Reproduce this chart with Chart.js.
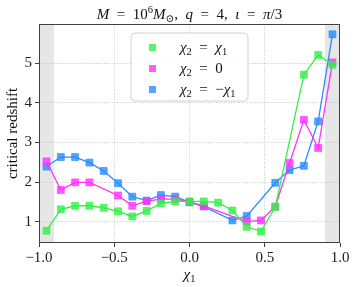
<!DOCTYPE html>
<html><head><meta charset="utf-8">
<script src="https://cdn.jsdelivr.net/npm/chart.js@4"></script>
<style>html,body{margin:0;padding:0;background:#fff}#wrap{width:357px;height:287px}</style>
</head><body><div id="wrap"><canvas id="c" width="357" height="287"></canvas></div>
<script>
const chi1 = [-0.95, -0.855, -0.76, -0.665, -0.57, -0.475, -0.38, -0.285, -0.19, -0.095, 0, 0.095, 0.19, 0.285, 0.38, 0.475, 0.57, 0.665, 0.76, 0.855, 0.95];
const zAligned = [0.77, 1.31, 1.40, 1.40, 1.35, 1.26, 1.13, 1.27, 1.46, 1.51, 1.51, 1.51, 1.48, 1.28, 0.87, 0.75, 1.37, null, 4.71, 5.21, 4.96];
const zZero    = [2.52, 1.80, 1.99, 1.99, null, 1.66, 1.40, 1.52, 1.57, 1.57, 1.50, 1.40, null, null, 1.00, 1.03, 1.38, 2.48, 3.57, 2.86, 5.02];
const zAnti    = [2.39, 2.63, 2.63, 2.49, 2.28, 1.97, 1.63, 1.53, 1.67, 1.63, 1.49, 1.38, null, 1.03, 1.14, null, 1.98, 2.30, 2.41, 3.53, 5.73];
const xTicks = [-1.0, -0.5, 0.0, 0.5, 1.0];
const yTicks = [1, 2, 3, 4, 5];
const shadeRanges = [[-1.0, -0.9], [0.9, 1.0]];
const seriesLabels = [
  [{t:'χ',it:1},{t:'2',sub:1},{t:'  =  '},{t:'χ',it:1},{t:'1',sub:1}],
  [{t:'χ',it:1},{t:'2',sub:1},{t:'  =  0'}],
  [{t:'χ',it:1},{t:'2',sub:1},{t:'  =  −'},{t:'χ',it:1},{t:'1',sub:1}]
];
const titleSegs = [{t:'M',it:1},{t:'  =  10'},{t:'6',sup:1},{t:'M',it:1},{t:'⊙',sub:1},{t:',  '},{t:'q',it:1},{t:'  =  4,  '},{t:'ι',it:1},{t:'  =  '},{t:'π',it:1},{t:'/3'}];
const xTitleSegs = [{t:'χ',it:1},{t:'1',sub:1}];
const yTitle = 'critical redshift';

const colors = ['rgb(50,240,70)', 'rgb(255,50,255)', 'rgb(40,140,255)'];
const colorsA = ['rgba(50,240,70,0.8)', 'rgba(255,50,255,0.8)', 'rgba(40,140,255,0.8)'];
const FONT = '"Liberation Serif", "DejaVu Serif", serif';

function segFont(s, size){
  const sz = (s.sub||s.sup) ? size*0.7 : size;
  return (s.it ? 'italic ' : '') + sz + 'px ' + FONT;
}
function richWidth(ctx, segs, size){
  let w = 0;
  for (const s of segs){ ctx.font = segFont(s,size); w += ctx.measureText(s.t).width; }
  return w;
}
function drawRich(ctx, segs, x, y, size, align){
  const w = richWidth(ctx, segs, size);
  let cx = align === 'center' ? x - w/2 : x;
  ctx.textBaseline = 'alphabetic';
  ctx.textAlign = 'left';
  for (const s of segs){
    ctx.font = segFont(s,size);
    let dy = 0;
    if (s.sub) dy = size*0.22;
    if (s.sup) dy = -size*0.38;
    ctx.fillText(s.t, cx, y + dy);
    cx += ctx.measureText(s.t).width;
  }
}

const decor = {
  id: 'decor',
  beforeDraw(chart){
    const {ctx, chartArea: a, scales: {x}} = chart;
    ctx.save();
    ctx.fillStyle = '#e6e6e6';
    for (const [lo, hi] of shadeRanges){
      const p0 = x.getPixelForValue(lo), p1 = x.getPixelForValue(hi);
      ctx.fillRect(p0, a.top, p1 - p0, a.bottom - a.top);
    }
    ctx.restore();
  },
  afterDraw(chart){
    const {ctx, chartArea: a} = chart;
    ctx.save();
    ctx.strokeStyle = '#404040';
    ctx.lineWidth = 1;
    ctx.strokeRect(Math.round(a.left)+0.5, Math.round(a.top)+0.5, Math.round(a.right-a.left)-1, Math.round(a.bottom-a.top)-1);
    const lx = 131, ly = 33, lw = 117, lh = 68, r = 4;
    ctx.beginPath();
    ctx.moveTo(lx+r, ly); ctx.lineTo(lx+lw-r, ly); ctx.quadraticCurveTo(lx+lw, ly, lx+lw, ly+r);
    ctx.lineTo(lx+lw, ly+lh-r); ctx.quadraticCurveTo(lx+lw, ly+lh, lx+lw-r, ly+lh);
    ctx.lineTo(lx+r, ly+lh); ctx.quadraticCurveTo(lx, ly+lh, lx, ly+lh-r);
    ctx.lineTo(lx, ly+r); ctx.quadraticCurveTo(lx, ly, lx+r, ly);
    ctx.closePath();
    ctx.fillStyle = 'rgba(255,255,255,0.85)';
    ctx.fill();
    ctx.strokeStyle = '#d0d0d0';
    ctx.stroke();
    const rows = [47, 68, 89];
    seriesLabels.forEach((segs, i) => {
      ctx.fillStyle = colorsA[i];
      ctx.fillRect(149, rows[i]-3, 7, 7);
      ctx.fillStyle = '#111';
      drawRich(ctx, segs, 180, rows[i]+5, 15, 'left');
    });
    drawRich(ctx, titleSegs, (a.left+a.right)/2, 19, 15, 'center');
    drawRich(ctx, xTitleSegs, (a.left+a.right)/2, 279, 15, 'center');
    ctx.translate(13, (a.top+a.bottom)/2);
    ctx.rotate(-Math.PI/2);
    ctx.font = '15px ' + FONT;
    ctx.textAlign = 'center';
    ctx.textBaseline = 'middle';
    ctx.fillText(yTitle, 0, 0);
    ctx.restore();
  }
};

const mk = (data, i) => ({
  data: chi1.map((v, k) => ({x: v, y: data[k]})),
  borderColor: colors[i],
  backgroundColor: colorsA[i],
  borderWidth: 1.3,
  pointStyle: 'rect',
  pointRadius: 4.9,
  pointBorderWidth: 0.8,
  pointBorderColor: colorsA[i],
  pointBackgroundColor: colorsA[i],
  spanGaps: true,
  tension: 0
});

const gridCol = ctx => {
  const v = ctx.tick && ctx.tick.value;
  return (v === -1 || v === 1) ? 'rgba(0,0,0,0)' : '#b8b8b8';
};

new Chart(document.getElementById('c'), {
  type: 'line',
  data: { datasets: [mk(zAligned,0), mk(zZero,1), mk(zAnti,2)] },
  options: {
    responsive: false,
    animation: false,
    devicePixelRatio: 1,
    layout: { padding: { top: 24, right: 17, left: 0, bottom: 0 } },
    plugins: { legend: { display: false }, tooltip: { enabled: false }, title: { display: false } },
    scales: {
      x: {
        type: 'linear', min: -1, max: 1,
        afterBuildTicks: s => { s.ticks = xTicks.map(v => ({value: v})); },
        afterFit: s => { s.height = 44; },
        ticks: {
          color: '#222', padding: 2, maxRotation: 0, autoSkip: false,
          font: { family: FONT, size: 15 },
          callback: v => (v < 0 ? '−' : '') + Math.abs(v).toFixed(1)
        },
        grid: { color: gridCol, lineWidth: 0.8, tickLength: 4, tickColor: '#404040', tickWidth: 1, tickBorderDash: [] },
        border: { display: false, dash: [1, 1.6] }
      },
      y: {
        type: 'linear', min: 0.46, max: 5.99,
        afterBuildTicks: s => { s.ticks = yTicks.map(v => ({value: v})); },
        afterFit: s => { s.width = 39; },
        ticks: {
          color: '#222', padding: 3, autoSkip: false,
          font: { family: FONT, size: 15 },
          callback: v => String(v)
        },
        grid: { color: '#b8b8b8', lineWidth: 0.8, tickLength: 4, tickColor: '#404040', tickWidth: 1, tickBorderDash: [] },
        border: { display: false, dash: [1, 1.6] }
      }
    }
  },
  plugins: [decor]
});
</script>
</body></html>
